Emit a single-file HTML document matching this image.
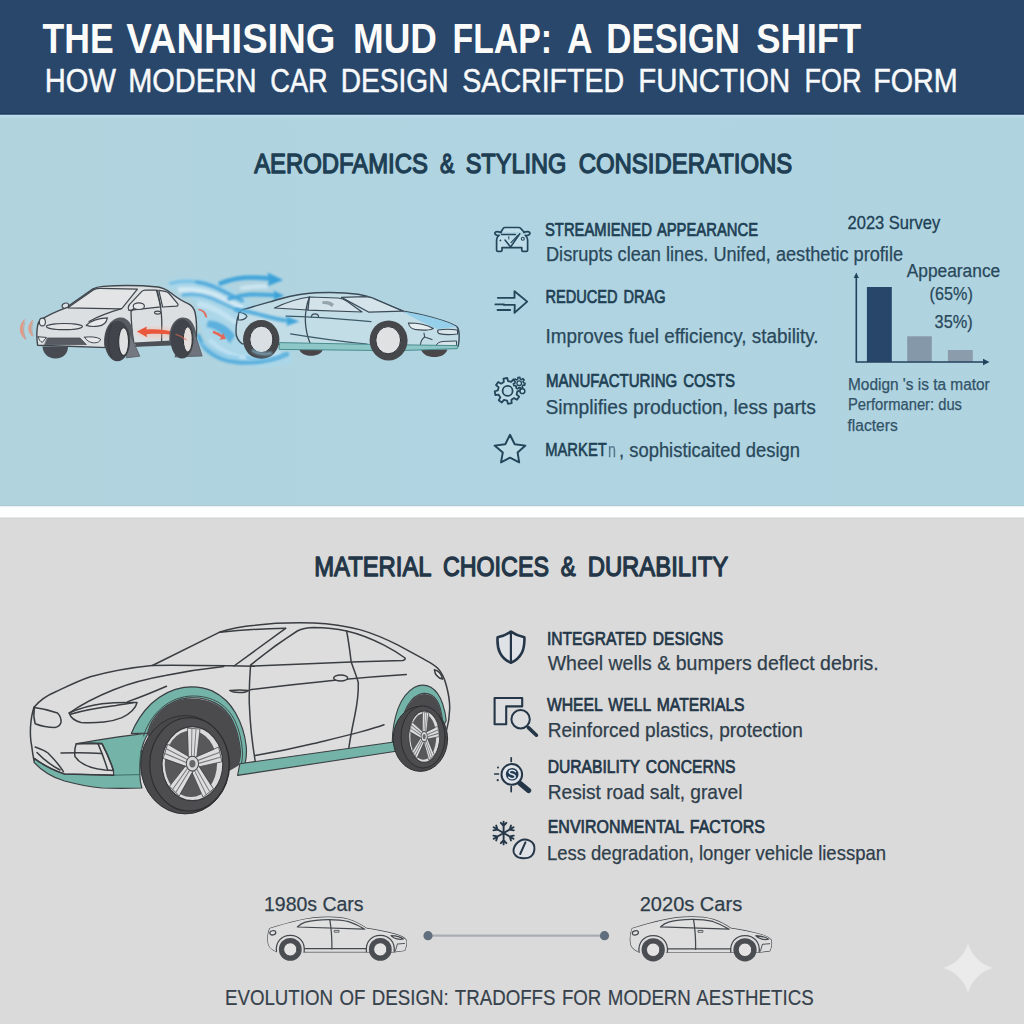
<!DOCTYPE html>
<html lang="en"><head><meta charset="utf-8"><title>The Vanishing Mud Flap</title>
<style>
html,body{margin:0;padding:0;background:#dadada;}
body{width:1024px;height:1024px;overflow:hidden;font-family:"Liberation Sans",sans-serif;}
svg{display:block;font-family:"Liberation Sans",sans-serif;}
text{white-space:pre;}
</style></head><body>
<svg width="1024" height="1024" viewBox="0 0 1024 1024">
<defs>
<linearGradient id="gblue" x1="0" y1="0" x2="1" y2="0">
<stop offset="0" stop-color="#b0d3de"/><stop offset="0.5" stop-color="#b0d4e1"/><stop offset="1" stop-color="#afd3df"/>
</linearGradient>
<linearGradient id="gband" x1="0" y1="0" x2="0" y2="1">
<stop offset="0" stop-color="#c2e0f3"/><stop offset="0.35" stop-color="#badaea"/><stop offset="1" stop-color="#b0d4e0" stop-opacity="0"/>
</linearGradient>
</defs>
<rect x="0" y="0" width="1024" height="1024" fill="#dadada"/>
<rect x="0" y="114" width="1024" height="392.3" fill="url(#gblue)"/>
<rect x="0" y="114" width="1024" height="7" fill="url(#gband)"/>
<rect x="0" y="0" width="1024" height="114.5" fill="#28476a"/>
<rect x="0" y="113.2" width="1024" height="1.3" fill="#213f5e"/>
<rect x="0" y="505.2" width="1024" height="1.1" fill="#a8c9d4"/>
<rect x="0" y="506.3" width="1024" height="11.4" fill="#fdfefe"/>
<rect x="0" y="517.7" width="1024" height="1.2" fill="#d3d3d3"/>
<text x="42.5" y="53" font-size="43" fill="#fbfbfa" font-weight="bold" textLength="71.2" lengthAdjust="spacingAndGlyphs">THE</text>
<text x="126.25" y="53" font-size="43" fill="#fbfbfa" font-weight="bold" textLength="209.2" lengthAdjust="spacingAndGlyphs">VANHISING</text>
<text x="353.0" y="53" font-size="43" fill="#fbfbfa" font-weight="bold" textLength="84.0" lengthAdjust="spacingAndGlyphs">MUD</text>
<text x="452.5" y="53" font-size="43" fill="#fbfbfa" font-weight="bold" textLength="99.5" lengthAdjust="spacingAndGlyphs">FLAP:</text>
<text x="567.0" y="53" font-size="43" fill="#fbfbfa" font-weight="bold" textLength="25.5" lengthAdjust="spacingAndGlyphs">A</text>
<text x="606.25" y="53" font-size="43" fill="#fbfbfa" font-weight="bold" textLength="133.7" lengthAdjust="spacingAndGlyphs">DESIGN</text>
<text x="756.25" y="53" font-size="43" fill="#fbfbfa" font-weight="bold" textLength="105.0" lengthAdjust="spacingAndGlyphs">SHIFT</text>
<text x="44.75" y="91.6" font-size="33.5" fill="#f7f9fb" font-weight="normal" textLength="71.2" lengthAdjust="spacingAndGlyphs" stroke="#f7f9fb" stroke-width="0.5" stroke-linejoin="round">HOW</text>
<text x="128.25" y="91.6" font-size="33.5" fill="#f7f9fb" font-weight="normal" textLength="128.5" lengthAdjust="spacingAndGlyphs" stroke="#f7f9fb" stroke-width="0.5" stroke-linejoin="round">MODERN</text>
<text x="270.25" y="91.6" font-size="33.5" fill="#f7f9fb" font-weight="normal" textLength="57.5" lengthAdjust="spacingAndGlyphs" stroke="#f7f9fb" stroke-width="0.5" stroke-linejoin="round">CAR</text>
<text x="340.75" y="91.6" font-size="33.5" fill="#f7f9fb" font-weight="normal" textLength="107.7" lengthAdjust="spacingAndGlyphs" stroke="#f7f9fb" stroke-width="0.5" stroke-linejoin="round">DESIGN</text>
<text x="462.25" y="91.6" font-size="33.5" fill="#f7f9fb" font-weight="normal" textLength="162.0" lengthAdjust="spacingAndGlyphs" stroke="#f7f9fb" stroke-width="0.5" stroke-linejoin="round">SACRIFTED</text>
<text x="638.25" y="91.6" font-size="33.5" fill="#f7f9fb" font-weight="normal" textLength="152.0" lengthAdjust="spacingAndGlyphs" stroke="#f7f9fb" stroke-width="0.5" stroke-linejoin="round">FUNCTION</text>
<text x="804.5" y="91.6" font-size="33.5" fill="#f7f9fb" font-weight="normal" textLength="57.0" lengthAdjust="spacingAndGlyphs" stroke="#f7f9fb" stroke-width="0.5" stroke-linejoin="round">FOR</text>
<text x="873.25" y="91.6" font-size="33.5" fill="#f7f9fb" font-weight="normal" textLength="84.5" lengthAdjust="spacingAndGlyphs" stroke="#f7f9fb" stroke-width="0.5" stroke-linejoin="round">FORM</text>
<text x="254.18" y="172.5" font-size="28" fill="#1e3f54" font-weight="normal" textLength="173.7" lengthAdjust="spacingAndGlyphs" stroke="#1e3f54" stroke-width="1.35" stroke-linejoin="round">AERODFAMICS</text>
<text x="439.93" y="172.5" font-size="28" fill="#1e3f54" font-weight="normal" textLength="14.4" lengthAdjust="spacingAndGlyphs" stroke="#1e3f54" stroke-width="1.35" stroke-linejoin="round">&amp;</text>
<text x="465.68" y="172.5" font-size="28" fill="#1e3f54" font-weight="normal" textLength="100.7" lengthAdjust="spacingAndGlyphs" stroke="#1e3f54" stroke-width="1.35" stroke-linejoin="round">STYLING</text>
<text x="578.67" y="172.5" font-size="28" fill="#1e3f54" font-weight="normal" textLength="213.6" lengthAdjust="spacingAndGlyphs" stroke="#1e3f54" stroke-width="1.35" stroke-linejoin="round">CONSIDERATIONS</text>
<text x="545" y="235.8" font-size="18.5" fill="#1e3f54" font-weight="normal" textLength="213.0" lengthAdjust="spacingAndGlyphs" stroke="#1e3f54" stroke-width="0.72" stroke-linejoin="round" style="word-spacing:2.2px">STREAMIENED APPEARANCE</text>
<text x="546" y="260.6" font-size="19.5" fill="#29485b" font-weight="normal" textLength="357.0" lengthAdjust="spacingAndGlyphs" stroke="#29485b" stroke-width="0.25" stroke-linejoin="round">Disrupts clean lines. Unifed, aesthetic profile</text>
<text x="545.4" y="303.1" font-size="18.5" fill="#1e3f54" font-weight="normal" textLength="120.2" lengthAdjust="spacingAndGlyphs" stroke="#1e3f54" stroke-width="0.72" stroke-linejoin="round" style="word-spacing:2.2px">REDUCED DRAG</text>
<text x="545.4" y="342.9" font-size="19.5" fill="#29485b" font-weight="normal" textLength="273.2" lengthAdjust="spacingAndGlyphs" stroke="#29485b" stroke-width="0.25" stroke-linejoin="round">Improves fuel efficiency, stability.</text>
<text x="546" y="387" font-size="18.5" fill="#1e3f54" font-weight="normal" textLength="189.0" lengthAdjust="spacingAndGlyphs" stroke="#1e3f54" stroke-width="0.72" stroke-linejoin="round" style="word-spacing:2.2px">MANUFACTURING COSTS</text>
<text x="545.4" y="413.8" font-size="19.5" fill="#29485b" font-weight="normal" textLength="270.4" lengthAdjust="spacingAndGlyphs" stroke="#29485b" stroke-width="0.25" stroke-linejoin="round">Simplifies production, less parts</text>
<text x="545.2" y="456.4" font-size="18.6" fill="#1e3f54" font-weight="normal" textLength="61.6" lengthAdjust="spacingAndGlyphs" stroke="#1e3f54" stroke-width="0.6" stroke-linejoin="round">MARKET</text>
<text x="608" y="456.8" font-size="19.5" fill="#3f6479" font-weight="normal" textLength="8.0" lengthAdjust="spacingAndGlyphs" stroke="#3f6479" stroke-width="0.25" stroke-linejoin="round" opacity=".8">n</text>
<text x="619" y="457.4" font-size="19.5" fill="#29485b" font-weight="normal" textLength="181.0" lengthAdjust="spacingAndGlyphs" stroke="#29485b" stroke-width="0.25" stroke-linejoin="round">, sophisticaited design</text>
<text x="847.6" y="229.4" font-size="17.8" fill="#1e3f54" font-weight="normal" textLength="92.6" lengthAdjust="spacingAndGlyphs" stroke="#1e3f54" stroke-width="0.3" stroke-linejoin="round">2023 Survey</text>
<text x="906.7" y="277.4" font-size="18" fill="#29485b" font-weight="normal" textLength="93.5" lengthAdjust="spacingAndGlyphs" stroke="#29485b" stroke-width="0.25" stroke-linejoin="round">Appearance</text>
<text x="929.6" y="300.2" font-size="18" fill="#29485b" font-weight="normal" textLength="43.2" lengthAdjust="spacingAndGlyphs" stroke="#29485b" stroke-width="0.25" stroke-linejoin="round">(65%)</text>
<text x="934.6" y="328.4" font-size="18" fill="#29485b" font-weight="normal" textLength="38.2" lengthAdjust="spacingAndGlyphs" stroke="#29485b" stroke-width="0.25" stroke-linejoin="round">35%)</text>
<text x="848" y="389.9" font-size="15.8" fill="#325268" font-weight="normal" textLength="141.7" lengthAdjust="spacingAndGlyphs" stroke="#325268" stroke-width="0.25" stroke-linejoin="round">Modign 's is ta mator</text>
<text x="848" y="410.2" font-size="15.8" fill="#325268" font-weight="normal" textLength="114.0" lengthAdjust="spacingAndGlyphs" stroke="#325268" stroke-width="0.25" stroke-linejoin="round">Performaner: dus</text>
<text x="847.5" y="431" font-size="15.8" fill="#325268" font-weight="normal" textLength="50.2" lengthAdjust="spacingAndGlyphs" stroke="#325268" stroke-width="0.25" stroke-linejoin="round">flacters</text>
<g id="chart"><rect x="866.9" y="287" width="24.9" height="75" fill="#28466a"/><rect x="907.2" y="336.3" width="24.6" height="25.5" fill="#8598a9"/><rect x="947.9" y="350" width="24.9" height="12" fill="#8b9dac"/><path d="M856.3 276 V362 H984" fill="none" stroke="#24425e" stroke-width="1.6"/><path d="M856.3 272.5 l-2.6 5.5 h5.2z M989.5 362 l-6.5 -3.2 v6.4z" fill="#24425e"/></g>
<text x="314.18" y="575.8" font-size="28.5" fill="#233648" font-weight="normal" textLength="117.4" lengthAdjust="spacingAndGlyphs" stroke="#233648" stroke-width="1.35" stroke-linejoin="round">MATERIAL</text>
<text x="442.93" y="575.8" font-size="28.5" fill="#233648" font-weight="normal" textLength="106.0" lengthAdjust="spacingAndGlyphs" stroke="#233648" stroke-width="1.35" stroke-linejoin="round">CHOICES</text>
<text x="560.67" y="575.8" font-size="28.5" fill="#233648" font-weight="normal" textLength="14.9" lengthAdjust="spacingAndGlyphs" stroke="#233648" stroke-width="1.35" stroke-linejoin="round">&amp;</text>
<text x="587.67" y="575.8" font-size="28.5" fill="#233648" font-weight="normal" textLength="140.5" lengthAdjust="spacingAndGlyphs" stroke="#233648" stroke-width="1.35" stroke-linejoin="round">DURABILITY</text>
<text x="546.9" y="645" font-size="18.5" fill="#233648" font-weight="normal" textLength="176.3" lengthAdjust="spacingAndGlyphs" stroke="#233648" stroke-width="0.72" stroke-linejoin="round" style="word-spacing:2.2px">INTEGRATED DESIGNS</text>
<text x="547.7" y="670.4" font-size="19.8" fill="#2f3e4b" font-weight="normal" textLength="331.0" lengthAdjust="spacingAndGlyphs" stroke="#2f3e4b" stroke-width="0.25" stroke-linejoin="round">Wheel wells &amp; bumpers deflect debris.</text>
<text x="546.9" y="711.4" font-size="18.5" fill="#233648" font-weight="normal" textLength="197.7" lengthAdjust="spacingAndGlyphs" stroke="#233648" stroke-width="0.72" stroke-linejoin="round" style="word-spacing:2.2px">WHEEL WELL MATERIALS</text>
<text x="547.7" y="737.2" font-size="19.8" fill="#2f3e4b" font-weight="normal" textLength="255.1" lengthAdjust="spacingAndGlyphs" stroke="#2f3e4b" stroke-width="0.25" stroke-linejoin="round">Reinforced plastics, protection</text>
<text x="547.7" y="772.5" font-size="18.5" fill="#233648" font-weight="normal" textLength="187.8" lengthAdjust="spacingAndGlyphs" stroke="#233648" stroke-width="0.72" stroke-linejoin="round" style="word-spacing:2.2px">DURABILITY CONCERNS</text>
<text x="547.7" y="799.1" font-size="19.8" fill="#2f3e4b" font-weight="normal" textLength="194.8" lengthAdjust="spacingAndGlyphs" stroke="#2f3e4b" stroke-width="0.25" stroke-linejoin="round">Resist road salt, gravel</text>
<text x="547.7" y="833.2" font-size="18.5" fill="#233648" font-weight="normal" textLength="217.3" lengthAdjust="spacingAndGlyphs" stroke="#233648" stroke-width="0.72" stroke-linejoin="round" style="word-spacing:2.2px">ENVIRONMENTAL FACTORS</text>
<text x="546.9" y="859.8" font-size="19.8" fill="#2f3e4b" font-weight="normal" textLength="339.1" lengthAdjust="spacingAndGlyphs" stroke="#2f3e4b" stroke-width="0.25" stroke-linejoin="round">Less degradation, longer vehicle liesspan</text>
<text x="264" y="910.8" font-size="20.5" fill="#2f3e4b" font-weight="normal" textLength="99.6" lengthAdjust="spacingAndGlyphs" stroke="#2f3e4b" stroke-width="0.25" stroke-linejoin="round">1980s Cars</text>
<text x="639.7" y="910.8" font-size="20.5" fill="#2f3e4b" font-weight="normal" textLength="102.5" lengthAdjust="spacingAndGlyphs" stroke="#2f3e4b" stroke-width="0.25" stroke-linejoin="round">2020s Cars</text>
<text x="225" y="1005.1" font-size="22" fill="#36414b" font-weight="normal" textLength="588.6" lengthAdjust="spacingAndGlyphs" stroke="#36414b" stroke-width="0.2" stroke-linejoin="round" style="word-spacing:1.5px">EVOLUTION OF DESIGN: TRADOFFS FOR MODERN AESTHETICS</text>
<line x1="428" y1="935.7" x2="604.5" y2="935.7" stroke="#a9adb2" stroke-width="2.2"/>
<circle cx="428" cy="935.7" r="4.6" fill="#5f6f7d"/><circle cx="604.5" cy="935.7" r="4.6" fill="#5f6f7d"/>
<path d="M968 943.6 Q974 962 992.4 968 Q974 974 968 992.4 Q962 974 943.6 968 Q962 962 968 943.6Z" fill="#ebebeb" filter="url(#soft2)"/>
<!-- ===== icons ===== -->
<g id="icons1" fill="none" stroke="#24465a" stroke-width="1.7" stroke-linejoin="round" stroke-linecap="round">
  <g id="ic-car">
    <path fill="#bfdeea" d="M501 232 L503.2 228.4 C503.6 227.8 504.2 227.5 505 227.5 H518.8 C519.6 227.5 520.2 227.8 520.6 228.4 L524 232"/>
    <path d="M501 232.6 C498 231.4 495.4 231.6 494.8 233 C494.6 234.6 497 235.6 499.4 235.6"/>
    <path d="M523.8 232.4 C526.6 231.2 529.4 231.4 530 233 C530.2 234.6 527.8 235.6 525.4 235.6"/>
    <path fill="#bfdeea" d="M499 235.4 C497.4 236.6 496.6 238 496.6 240 V250.2 C496.6 251 497 251.4 497.8 251.4 H500.8 C501.6 251.4 502 251 502 250.2 V247.6 H521.8 V250.2 C521.8 251 522.2 251.4 523 251.4 H526.4 C527.2 251.4 527.6 251 527.6 250.2 V240 C527.6 238 526.8 236.6 525.4 235.4"/>
    <path d="M501.6 234.5 H515.4" stroke-width="1.4"/>
    <path d="M505 240 L510.6 247 L519.8 233.8" stroke-width="1.5"/>
    <path d="M511 242.6 L517.6 235.6" stroke-width="1.2"/>
    <circle cx="522.8" cy="238.8" r="1.5" stroke-width="1.1"/>
    <circle cx="500.4" cy="240.4" r=".9" fill="#24465a" stroke="none"/>
    <path d="M508.8 236.6 V239" stroke-width="1"/>
  </g>
  <g id="ic-arrow" stroke-width="1.85">
    <path d="M497.8 297.8 H514.5 V291.2 L527.2 301.6 L514.5 312.8 L514.8 304.9 H504 "/>
    <path d="M495.4 304.4 H504"/>
    <path d="M497.5 310 H510.2"/>
  </g>
  <g id="ic-gear" stroke-width="1.8">
    <path d="M516.53 387.12 L519.84 386.82 L520.50 390.55 L517.29 391.40 L516.59 394.54 L519.14 396.67 L516.97 399.77 L514.10 398.10 L511.38 399.83 L511.68 403.14 L507.95 403.80 L507.10 400.59 L503.96 399.89 L501.83 402.44 L498.73 400.27 L500.40 397.40 L498.67 394.68 L495.36 394.98 L494.70 391.25 L497.91 390.40 L498.61 387.26 L496.06 385.13 L498.23 382.03 L501.10 383.70 L503.82 381.97 L503.52 378.66 L507.25 378.00 L508.10 381.21 L511.24 381.91 L513.37 379.36 L516.47 381.53 L514.80 384.40Z" fill="#bddce8" stroke-linejoin="round"/>
    <circle cx="507.6" cy="390.9" r="5" fill="#b6d8e4"/>
    <path d="M523.49 382.84 L525.10 383.24 L524.76 385.18 L523.10 385.00 L522.15 386.33 L522.85 387.84 L521.11 388.78 L520.22 387.38 L518.60 387.46 L517.85 388.94 L516.03 388.18 L516.57 386.60 L515.49 385.38 L513.87 385.73 L513.33 383.82 L514.90 383.27 L515.18 381.66 L513.90 380.61 L515.05 379.00 L516.46 379.88 L517.90 379.10 L517.92 377.44 L519.90 377.34 L520.09 378.99 L521.59 379.63 L522.91 378.61 L524.22 380.09 L523.04 381.27Z" fill="#bddce8" stroke-width="1.5"/>
    <circle cx="519.2" cy="383.2" r="2.3" stroke-width="1.3"/>
    <circle cx="522.4" cy="391.2" r="2.4" fill="#c4e1ec" stroke-width="1.5"/>
  </g>
  <g id="ic-star" stroke-width="1.95">
    <path fill="#bbdbe7" d="M510 434.8 L514.7 444.3 L525.4 445.6 L517.6 452.6 L519.2 462.4 L510 457.7 L501 462.4 L502.8 452.6 L494.6 445.6 L505.3 444.3Z"/>
  </g>
</g>
<g id="icons2" fill="none" stroke="#243647" stroke-width="1.7" stroke-linejoin="round" stroke-linecap="round">
  <g id="ic-shield" stroke-width="2.6">
    <path d="M510.9 631.6 C506.6 634.6 502 636.4 497.6 637.2 C497.2 643 497.8 648.4 500 652.8 C502.4 657.4 506 660.6 510.9 662.8 C515.8 660.6 519.4 657.4 521.8 652.8 C524 648.4 524.6 643 524.4 637.2 C519.8 636.4 515.2 634.6 510.9 631.6Z" fill="#dfe3e7"/>
    <path d="M510.9 632 V662.4" stroke-width="2.2"/>
  </g>
  <g id="ic-lmag">
    <path d="M494.6 698 H522.2 V706.4 H506.2 V724.2 H494.6Z" stroke-width="2.1" fill="#dcdedf"/>
    <circle cx="520.6" cy="719.2" r="9.2" stroke-width="2" fill="#dcdddf"/>
    <path d="M528.4 727.6 L536.4 735.2" stroke-width="3.6"/>
  </g>
  <g id="ic-dur">
    <circle cx="511.8" cy="774.4" r="10.3" stroke-width="2" fill="#e1e5ea"/>
    <circle cx="512.2" cy="774.2" r="6.3" fill="#223a52" stroke="none"/>
    <path d="M515.4 771.6 C514 769.8 509.4 769.6 509.2 772.2 C509 774.8 515.2 773.8 515.2 776.6 C515.2 779.2 510.2 779.2 508.8 777.2" stroke="#dfe6ee" stroke-width="1.5"/>
    <path d="M511.2 757.8 V761.4 M511.2 786.6 V791.6 M494.8 774 H498.4" stroke-width="1.7"/>
    <circle cx="498" cy="767.4" r="1" fill="#243647" stroke="none"/>
    <circle cx="497.7" cy="780.2" r="1.1" fill="#243647" stroke="none"/>
    <path d="M520.2 783.6 L528.6 790.6" stroke-width="5.2"/>
  </g>
  <g id="ic-snow">
    <path d="M503.60 833.00 L503.60 821.60 M503.60 825.93 L506.35 822.88 M503.60 825.93 L500.85 822.88 M503.60 833.00 L493.73 827.30 M497.48 829.47 L496.21 825.56 M497.48 829.47 L493.46 830.32 M503.60 833.00 L493.73 838.70 M497.48 836.53 L493.46 835.68 M497.48 836.53 L496.21 840.44 M503.60 833.00 L503.60 844.40 M503.60 840.07 L500.85 843.12 M503.60 840.07 L506.35 843.12 M503.60 833.00 L513.47 838.70 M509.72 836.53 L510.99 840.44 M509.72 836.53 L513.74 835.68 M503.60 833.00 L513.47 827.30 M509.72 829.47 L513.74 830.32 M509.72 829.47 L510.99 825.56 " stroke-width="1.9"/>
    <path d="M520.4 840.6 C523 839.2 526.6 839.4 529.6 840.6 C533 842.2 534.8 846 534.4 849.6 C534 853 532 856.4 528.6 857.6 C525.4 858.4 521.4 858.4 518.4 857.4 C515 856 513 852.6 513.6 849.2 C514.4 845.6 517.2 842.4 520.4 840.6Z" stroke-width="2" fill="#dee1e5"/>
    <path d="M525.4 842.4 L520.2 854" stroke-width="2"/>
  </g>
</g>
<!-- ===== top illustration: airflow + two cars ===== -->
<defs>
<filter id="soft" x="-10%" y="-10%" width="120%" height="120%"><feGaussianBlur stdDeviation="0.9"/></filter>
<filter id="soft2" x="-10%" y="-10%" width="120%" height="120%"><feGaussianBlur stdDeviation="0.5"/></filter>
</defs>
<g id="airflow" filter="url(#soft)">
  <!-- broad pale haze -->
  <path d="M168 281 C190 276 214 279 230 288 C242 295 252 304 264 308 L284 312 L286 330 C268 330 256 326 246 320 C238 348 252 360 292 351 L292 363 C262 371 236 367 217 353 C205 343 199 326 197 306 C191 296 183 290 168 289Z" fill="#a6d8f0" opacity=".55"/>
  <!-- whitish bands -->
  <path d="M178 287.4 C196 285.6 212 289.6 226 297.4 C232 300.8 238 303.6 244 305.6 L241 310 C234 308 228 305 222 301.6 C208 294 194 291.6 178 292.6Z" fill="#d9eef8" opacity=".8"/>
  <path d="M198 301 C210 303 222 309 232 317 C238 321.6 246 324 254 324.6 L253 329 C244 328.6 236 326 229 321 C219 313.6 209 308.6 197 306.4Z" fill="#cfe9f6" opacity=".7"/>
  <path d="M211 338 C219 347 231 353.6 246 355.6 C258 357 270 355 280 350.6 L281 355 C270 359.6 256 361 243 359 C228 356.4 216 349 208 341Z" fill="#c2e4f5" opacity=".75"/>
  <path d="M240 286.6 C250 284.4 260 284 268 284.6 L268 288.6 C260 288 250 288.6 241 290.6Z" fill="#d6edf8" opacity=".7"/>
  <!-- wave 1 -->
  <path d="M171 283.2 C180 281 190 280.8 199 282.4" fill="none" stroke="#7cc2e6" stroke-width="3.6" stroke-linecap="round"/>
  <path d="M197 282 C203 283 208 284.4 213 286.4 C224 291 232 296.4 242 300.6" fill="none" stroke="#56acdc" stroke-width="4" stroke-linecap="round"/>
  <!-- wave 2 (continues into third arrow) -->
  <path d="M183.4 295 C192 293.4 202 294.6 210 297.6 C222 302 230 307.4 240 311" fill="none" stroke="#66b5df" stroke-width="4" stroke-linecap="round" opacity=".95"/>
  <!-- top arrow -->
  <path d="M220.6 283.4 C228 280.4 236 278.4 244 277.8 C252 277.2 260 277.6 269 278.4" fill="none" stroke="#43a5da" stroke-width="4.6" stroke-linecap="round"/>
  <path d="M267.4 272.4 L283.2 280 L267.4 286.2 L269.4 279.2Z" fill="#3ba1d9"/>
  <!-- second arrow -->
  <path d="M229 298.8 C236 296.4 243 295 250 294.6 C258 294.2 266 294.6 275 295.2" fill="none" stroke="#48a8db" stroke-width="4" stroke-linecap="round"/>
  <path d="M273.4 290.6 L284.2 295.7 L273.4 300.5 L275 295.4Z" fill="#3ca2d9"/>
  <!-- middle blob -->
  <path d="M208 320.4 C218 320 228 325.4 235 335.4 L230 343.6 C223 334 215.6 328.4 206.4 327Z" fill="#56aedd" opacity=".92"/>
  <!-- bottom swoosh -->
  <path d="M198.4 335.6 C201 342 204 347 208 351 C216 358 226 361.4 238 362.4 C256 363.8 272 360.6 287 354.2" fill="none" stroke="#58afdd" stroke-width="4.2" stroke-linecap="round"/>
  <path d="M203 343 C212 352 224 356.4 238 357.4" fill="none" stroke="#8ccaea" stroke-width="3" stroke-linecap="round" opacity=".8"/>
</g>

<!-- ===== car 1 (left, with mud flaps) ===== -->
<g id="car1" stroke-linejoin="round" stroke-linecap="round">
  <!-- far front wheel -->
  <path d="M42.5 346.5 H68 C68 353 63.5 358.6 55.5 358.6 C47.5 358.6 43 353 42.5 346.5Z" fill="#474b51"/>
  <!-- far rear wheel hint -->
  <!-- body -->
  <path d="M37.6 345.2 C36.6 338 36.8 330 37.6 325.6 C38.2 322.4 39.4 320.6 41 319.6 C48 315.2 56.5 311.2 66 307.8 L93 288.9 C96 287.2 99 286.7 103 286.4 C118 285.3 140 285.3 158 287 C163 287.6 167 290 171 293 C176 297 182 301 188 303.6 C192 305.4 194.2 308.6 195.2 313 C196.6 320 196.8 328 196.4 336 L196 341 L170 342.5 L134.5 346 L107.5 347.6 Z" fill="#dcdfe1" stroke="#3f464d" stroke-width="1.4"/>
  <!-- windshield -->
  <path d="M67.8 307.8 L94 289.6 C96 288.6 98 288.4 100 288.4 L137.4 289.2 L123 307.2 C122.4 308.2 121.4 308.8 120 308.8 Z" fill="#e2e4e5" stroke="#3f464d" stroke-width="1.2"/>
  <!-- hood crease to right headlight -->
  <path d="M121.6 308.6 C112 311.4 100 315.2 89 321.4" fill="none" stroke="#3f464d" stroke-width="1.2"/>
  <!-- side windows -->
  <path d="M129 310.4 C127.8 308.4 128 306.6 129.4 304.6 L141.6 291.6 C142.6 290.6 143.8 290.2 145.4 290.2 L156.4 290.2 L160.8 306.8 Z" fill="#e3e5e6" stroke="#3f464d" stroke-width="1.2"/>
  <path d="M158.8 290.4 L165 291.4 C167 291.8 168.4 292.6 169.6 294 L177.6 303.6 C178.4 304.8 178 306 176.6 306.2 L162.6 307 Z" fill="#e3e5e6" stroke="#3f464d" stroke-width="1.2"/>
  <!-- door lines -->
  <path d="M157.2 290.2 C159.6 300 161.6 312 161.8 322 L161.6 341.4" fill="none" stroke="#3f464d" stroke-width="1.3"/>
  <path d="M131 311.4 C131.2 322 132.2 334 134 343.6" fill="none" stroke="#3f464d" stroke-width="1.3"/>
  <ellipse cx="157.6" cy="312.6" rx="3.1" ry="1.5" fill="#dcdfe1" stroke="#3f464d" stroke-width="1.1"/>
  <!-- mirrors -->
  <ellipse cx="138.8" cy="306.2" rx="5.6" ry="3.3" fill="#e6e8e9" stroke="#3f464d" stroke-width="1.2"/>
  <path d="M133.6 308.8 L131.4 311" stroke="#3f464d" stroke-width="1.4"/>
  <ellipse cx="65.4" cy="305.6" rx="3.4" ry="2.4" fill="#e0e3e5" stroke="#3f464d" stroke-width="1.1" transform="rotate(-20 65.4 305.6)"/>
  <!-- front face details -->
  <ellipse cx="42.4" cy="322" rx="3" ry="3.9" fill="#e7e9ea" stroke="#3f464d" stroke-width="1.1"/>
  <ellipse cx="64.4" cy="326.6" rx="18" ry="3.1" fill="#e2e4e6" stroke="#3f464d" stroke-width="1.2"/>
  <path d="M86.2 325.4 C90 321.2 98 318.2 107.4 317.8 C106.6 322 103.4 325.6 98 326.2 C93.6 326.7 89 326.5 86.2 325.4Z" fill="#e7e9ea" stroke="#3f464d" stroke-width="1.2"/>
  <path d="M47.6 338 H80 L86.4 344.6 H45Z" fill="#575b61" stroke="#4a4e54" stroke-width=".8"/>
  <path d="M38.2 336.8 L46.4 337.4 L42.4 342.4 C40.4 341.6 38.8 339.8 38.2 336.8Z" fill="#e7e9ea" stroke="#3f464d" stroke-width="1"/>
  <path d="M84.6 337.2 C90 336.4 97 336.8 100.6 339.2 C100.2 341.8 97.2 343 93.4 342.8 C89.4 342.6 86.6 340.4 84.6 337.2Z" fill="#e7e9ea" stroke="#3f464d" stroke-width="1"/>
  <!-- sill -->
  <path d="M134.2 342.4 L176 340.2 L171 345.4 L136.6 346.8Z" fill="#4c5056"/>
  <!-- red arrow inside -->
  <ellipse cx="158" cy="332.4" rx="22" ry="6" fill="#f3b9a8" opacity=".35" filter="url(#soft)"/>
  <g filter="url(#soft2)">
    <path d="M137 331.4 L146.8 326.4 L146.4 329.4 C156 328.8 166 329.6 175 332.2 C178 333.2 180.4 334.6 182 336 L181 338 C178 336.6 175 335.4 172 334.8 C164 333.6 155 333.6 146.6 334.2 L147 337.2Z" fill="#ea573a"/>
  </g>
  <!-- front wheel: arch, tire, hub, flap -->
  <path d="M104.4 347.6 C102.6 333 108 319.4 119.4 317.6 C128 316.6 132.6 325 133 334 L133.2 344 Z" fill="#575c62"/>
  <path d="M129.6 333 L139.8 356.2 L126.6 357.8 Z" fill="#747981" stroke="#565b62" stroke-width=".8"/>
  <ellipse cx="117.4" cy="341" rx="12.8" ry="20.2" fill="#41454b"/>
  <path d="M112 324.6 C107.6 332 107 348 111.6 357" fill="none" stroke="#31353a" stroke-width=".9" opacity=".8"/>
  <ellipse cx="123.6" cy="341.6" rx="5" ry="13.8" fill="#dfe0e1" stroke="#303439" stroke-width="1.1"/>
  <!-- rear wheel -->
  <path d="M169.4 343.4 C168.2 329.6 173 318.6 182.4 317.6 C191 316.8 196 326 196.6 338 Z" fill="#575c62"/>
  <path d="M194.2 331.6 L202.2 356 L175 357 L176 352 Z" fill="#6f747c" stroke="#565b62" stroke-width=".8"/>
  <ellipse cx="182" cy="338.8" rx="11.6" ry="19.6" fill="#41454b"/>
  <ellipse cx="187.8" cy="339.4" rx="4.5" ry="12.6" fill="#e4dedd" stroke="#33373c" stroke-width="1"/>
  <!-- red arrow over rear wheel tail -->
  <path d="M176 334.4 C180 335.6 183 337.4 186 339.6" fill="none" stroke="#ea6a50" stroke-width="1.5" opacity=".6"/>
  <!-- radar waves -->
  <g filter="url(#soft2)">
    <path d="M24.2 320 C18.4 326 19 334 25.6 339.4 C22.4 333.6 22 326.4 24.2 320Z" fill="#e39c84" stroke="#dc9a88" stroke-width=".9"/>
    <path d="M25 322 C22.8 328 23.4 334 25.8 338.6" fill="none" stroke="#a79aa4" stroke-width=".9" opacity=".7"/>
    <path d="M32.4 320.6 C27.4 325.6 27.6 332 32.6 336.2 C30.4 331.4 30.4 325.8 32.4 320.6Z" fill="#e2a28c" stroke="#dc9a88" stroke-width=".9"/>
    <path d="M33 322.6 C31.4 327 31.6 331.6 33 335" fill="none" stroke="#a79aa4" stroke-width=".8" opacity=".7"/>
  </g>
</g>
<!-- small red arrows between cars -->
<g filter="url(#soft2)" fill="#e2685a">
  <path d="M198.4 308.8 C201.6 309.2 204.4 310.6 205.6 312.8 C206.8 314.6 207.2 316.2 207.2 318 L204.8 316.4 C204.4 314.6 203.6 313 202 311.8 C201 311 199.8 310.4 198.4 310.2Z" opacity=".9"/>
  <path d="M213.4 330.4 C217 332 220 333.4 222.6 335.2 L223.4 332.8 L225.8 339 L219.4 339.8 L221.2 337.4 C218.6 335.6 215.6 334.2 212.6 333Z"/>
</g>

<!-- ===== car 2 (right, streamlined) ===== -->
<g id="car2" stroke-linejoin="round" stroke-linecap="round">
  <!-- far wheels -->
  <path d="M299 349 H323 C322 353.4 317 355.8 311 355.8 C305 355.8 300.4 353.4 299 349Z" fill="#4a4548"/>
  <path d="M421 349.4 H447.4 C446 354.4 440.6 357 434.2 357 C428 357 422.6 354.4 421 349.4Z" fill="#4a4548"/>
  <!-- body -->
  <path d="M240.6 310.6 C252 306.6 266 303 280 299 C292 295.6 304 293.4 316 292.8 C330 292.2 346 292.6 358 294.2 C366 295.4 372 297.8 378 300.6 L403.4 311.2 C416 313.4 430 316.4 442 320.4 C450 323 455.6 325.2 457.4 327.2 C459.4 330.6 459.6 338 458.2 346.4 L428 347.2 L300 345.8 L279 344.4 L242 343.8 C238 340.6 236 337 236 332 C236 324 237.2 316 240.6 310.6Z" fill="#c3dde7" stroke="#3b4b57" stroke-width="1.4"/>
  <!-- hood blue -->
  <path d="M403.4 311.4 C416 313.4 430 316.4 442 320.4 C449 322.8 454.6 325 456.8 326.8 L437 329 C428 324.6 414 318.8 403.4 311.4Z" fill="#96cfe9"/>
  <!-- windows band -->
  <path d="M274.4 308 C284 303.4 296 298.8 309.4 297 L308 310Z" fill="#d3e2e8" stroke="#3b4b57" stroke-width="1.2"/>
  <path d="M309.4 297 L338 298 C342 298.2 344.6 299.4 347.4 301.4 L362 312 L308 310.2Z" fill="#d3e3e9" stroke="#3b4b57" stroke-width="1.2"/>
  <path d="M341.4 297.4 L366 296.6 C370 296.8 374 298.2 378 300.4 L403 311.2 L369 312.2 Z" fill="#d4e4ea" stroke="#3b4b57" stroke-width="1.2"/>
  <!-- smudge in window -->
  <path d="M322 301.6 C326 300.4 331 301.2 334 304 L332 307 C329.6 304.8 326 303.6 322.6 304Z" fill="#7f9094" opacity=".75" filter="url(#soft2)"/>
  <!-- door line -->
  <path d="M309.4 297 C306.4 305 305 314 305.4 322 C305.8 330 307.6 337 310 343" fill="none" stroke="#3b4b57" stroke-width="1.3"/>
  <path d="M311.4 317 A3.6 3.2 0 0 1 318.6 317" fill="none" stroke="#3b4b57" stroke-width="1.2"/>
  <!-- belt + lower crease -->
  <path d="M286 316.2 C306 316.6 340 319 371 321.6" fill="none" stroke="#3b5a68" stroke-width="1.2"/>
  <path d="M290.6 333.8 C310 337 340 341.4 367 344" fill="none" stroke="#3b5a68" stroke-width="1.2"/>
  <!-- tail light -->
  <path d="M238.8 312.6 C242 312.2 246 313.8 247 316.4 C245.6 318.8 241.6 320.2 238.2 320Z" fill="#c9e4f0" stroke="#3b4b57" stroke-width="1.1"/>
  <!-- headlight, grille, intake -->
  <path d="M408.4 323 C416 323 427 325 433.4 328.4 C431 330.4 422 330.6 415 329.4 C411.4 328.6 409 326.4 408.4 323Z" fill="#e6eef0" stroke="#3b4b57" stroke-width="1.1"/>
  <path d="M438 330 C444 329 452 329.2 457.4 330 L457.6 334 C451 334.8 443 334.6 439 333.6 C437.6 332.6 437.4 331 438 330Z" fill="#d7e5ea" stroke="#3b4b57" stroke-width="1.1"/>
  <path d="M436 345.6 C437 342.8 440 341.6 444 341.4 L456.6 341 L456.4 345.8Z" fill="#d7e5ea" stroke="#3b4b57" stroke-width="1"/>
  <path d="M424 333 L424.6 337 L432 339.6 M424.6 337 C422 339 420.6 342 420.4 345" fill="none" stroke="#3b4b57" stroke-width="1.1"/>
  <!-- sill (teal) -->
  <path d="M279.6 342.6 L372 344.4 L458 345.6 L457.4 348.6 L406 350.4 L372 350.4 L279.6 349.4Z" fill="#8ec7c8" stroke="#4a8e90" stroke-width="1"/>
  <!-- wheels -->
  <ellipse cx="261.2" cy="339.6" rx="18.2" ry="19.5" fill="#45474b"/>
  <ellipse cx="261.4" cy="339.4" rx="11.6" ry="13.3" fill="#d9dfe2" stroke="#2f3236" stroke-width="1"/>
  <ellipse cx="388.6" cy="340.4" rx="19" ry="20" fill="#45474b"/>
  <ellipse cx="388.2" cy="340.2" rx="12.4" ry="13.6" fill="#e0e1e2" stroke="#2f3236" stroke-width="1"/>
</g>
<!-- third arrow over car 2 tail -->
<g filter="url(#soft)">
  <path d="M236 309.5 C244 311 250 312 256 313.6 C268 316.6 276 319.4 287.5 320.8" fill="none" stroke="#4eabdc" stroke-width="4" stroke-linecap="round" opacity=".92"/>
  <path d="M286.2 316.2 L299.6 321.6 L286.2 326 L288 321Z" fill="#3fa4da"/>
</g>
<!-- airflow that overlaps car 2 rear -->
<g filter="url(#soft)" opacity=".8">
  <path d="M246 357 C258 362 274 361 286 354" fill="none" stroke="#6dbbe3" stroke-width="3"/>
  <path d="M252 350 C256 353.6 264 355 272 353" fill="none" stroke="#9bd3ee" stroke-width="3" opacity=".8"/>
</g>

<!-- ===== big car (section 2) ===== -->
<g id="bigcar" fill="none" stroke="#3a3d41" stroke-width="1.5" stroke-linejoin="round" stroke-linecap="round">
  <!-- body silhouette light fill -->
  <path d="M34 707.3 C40 700 48 695 55.2 692 C66 687 78 681 90.3 676.8 C110 671 130 667.6 152 665.4 L219.2 632.3 C232 628 244 626 255.2 625.2 C274 622.8 294 622.4 313.7 622.9 C330 623.6 346 626 360.6 629.9 C374 633.8 386 639 398.1 645.2 C407 650 416 655 423.9 659.2 C430 662.4 435 665 438 668.6 C442 673 444.6 679 446.2 685 C448.4 693 449.8 701 449.7 708.4 C449.6 716 448.4 724 446.2 731.9 L442 738 L399.3 741.2 L239.9 763.5 L141.9 788 L102 788 L64.5 781 L34 762.3 C32 755 31 748 30.6 742 C30.2 735 30.2 730 30.5 727 C31 720 32 713 34 707.3Z" fill="#dddddd" stroke="none"/>

  <!-- teal: bumper + lip -->
  <path d="M76.2 743.8 C94 740.6 112 737.6 130 735.4 L148.4 733 C144.6 739 142.4 745 141.4 751.4 C140 760 139.6 768 139.8 775 C140 780 140.8 784.4 141.9 788 C128 788.6 114 788.6 102 788 C88 786.6 76 784 64.5 781 C52 777.4 42 771 34 762.3 L34.6 758.4 C44 765.6 54 770.6 64.5 774 L113.7 775.2 L113.4 770.4 C110.6 761.6 106.6 752.4 102 743.6Z" fill="#73b3a8" stroke="#3c3f43" stroke-width="1.2"/>
  <path d="M113.7 775.2 L140 774.6 M140.6 751 C140 759 139.8 767 140 774.6" stroke="#3f6f67" stroke-width="1"/>
  <!-- teal: front arch -->
  <path d="M131.3 733.6 C136 722 142.6 712 151.2 703.7 C161 694.8 172 689 184 687.3 C194 686 204 687.4 212.2 690.9 C222.6 696 230.4 704 235.6 713 C241.4 723.4 245 734.6 246.2 746 C246.8 752 246.4 758 245 763.6 L238.2 764.6 C240 759.6 240.8 755 240.3 750.6 C239.4 740.6 237.2 731 233.3 722.5 C229 713.6 222.6 706.6 214.5 702.6 C206.6 698.8 197.6 697.2 188.7 697.9 C178 698.8 168.4 703.6 160.6 710.8 C154 717 149.6 724.6 147.6 733Z" fill="#73b3a8" stroke="#3c3f43" stroke-width="1.2"/>
  <!-- inner arch second line -->
  <path d="M143.6 736 C146.4 726.6 151.6 717.6 158.4 711 C166.6 702.6 177 697.4 188.6 696.2 C198 695.4 207.6 697 215.6 700.8 C224.4 705.2 231 712.6 235.4 721.8 C239.4 730.6 241.6 740.6 242.4 750.6 C242.8 755.4 242.4 760 241.2 764" stroke="#3c3f43" stroke-width=".9"/>
  <!-- front wheel well dark -->
  <path d="M147.6 733.6 C150 725 154.6 717.4 160.6 711.4 C168.4 704 178 699.4 188.7 698.6 C197.6 698 206.6 699.6 214.5 703.4 C222.6 707.4 229 714.4 233.3 723.2 C237.2 731.6 239.4 741 240.3 751 C240.8 756 240 761 237.8 766 L224 774 L150 742Z" fill="#4b4b4e" stroke="none"/>
  <!-- teal: sill -->
  <path d="M239.9 763.7 L399.3 741.2 L399.3 750.8 L237.6 775.4Z" fill="#73b3a8" stroke="#3c3f43" stroke-width="1.1"/>
  <!-- teal: rear arch -->
  <path d="M392.3 741.6 C392.4 730 394.4 718.6 398.1 708.4 C401.8 699 407.4 691.4 414.5 687.3 C420 684.4 426 684.6 430.9 687.3 C436.4 690.6 440.2 696.6 442.6 703.7 C444.6 709.6 445.8 715 446.2 720.4 L443 727 C442.8 720 441.8 714 440.3 708.4 C438.4 702.4 436 698 432.1 695.5 C428 693.2 423.6 692.8 419.2 694.4 C413.2 697 408.4 703 405.1 710.8 C401.6 719.6 399.8 730 399.3 741.2Z" fill="#73b3a8" stroke="#3c3f43" stroke-width="1.1"/>
  <!-- rear wheel well dark -->
  <path d="M399.6 741 C400 730 401.8 719.6 405.3 711 C408.6 703.4 413.4 697.4 419.3 694.9 C423.6 693.4 428 693.8 431.9 696 C435.8 698.4 438.2 702.8 440 708.6 C441.6 714 442.6 720 442.8 727 L440 745 L405 752Z" fill="#4b4b4e" stroke="none"/>

  <!-- front tyre -->
  <ellipse cx="185.2" cy="764.7" rx="44.5" ry="49.2" fill="#48484b" stroke="#2f3032" stroke-width="1"/>
  <ellipse cx="189.4" cy="764.4" rx="39.6" ry="46.6" fill="#4d4d50" stroke="#2c2d2f" stroke-width="1.1"/>
  <!-- front rim -->
  <g transform="translate(192.4 763.7) scale(30.4 37)">
    <circle r="1" fill="#dadadb" stroke="#36383b" stroke-width=".035"/>
    <ellipse cx="-.05" cy="0" rx=".86" ry=".9" fill="#58585b" stroke="none"/>
    <g transform="rotate(3)">
    <g fill="#dcdcdd" stroke="#46484b" stroke-width=".022">
      <path id="spk" d="M-.2 -.95 L.2 -.95 L.13 -.1 L-.13 -.1Z"/>
      <use href="#spk" transform="rotate(72)"/><use href="#spk" transform="rotate(144)"/>
      <use href="#spk" transform="rotate(216)"/><use href="#spk" transform="rotate(288)"/>
    </g>
    <g stroke="#77787b" stroke-width=".03" fill="none">
      <path id="spl" d="M-.065 -.93 L-.04 -.2 M.07 -.93 L.045 -.2"/>
      <use href="#spl" transform="rotate(72)"/><use href="#spl" transform="rotate(144)"/>
      <use href="#spl" transform="rotate(216)"/><use href="#spl" transform="rotate(288)"/>
    </g>
    </g>
    <circle r=".2" fill="#d6d6d7" stroke="#46484b" stroke-width=".03"/>
    <circle r=".1" fill="#66676a" stroke="none"/>
  </g>

  <!-- rear tyre -->
  <ellipse cx="420.4" cy="738.8" rx="27.2" ry="32.6" fill="#48484b" stroke="#2f3032" stroke-width="1"/>
  <ellipse cx="423" cy="737" rx="22" ry="31" fill="#4d4d50" stroke="#2c2d2f" stroke-width="1"/>
  <g transform="translate(424.2 736.6) scale(15.4 25.8)">
    <circle r="1" fill="#dadadb" stroke="#36383b" stroke-width=".05"/>
    <ellipse cx="-.06" cy="0" rx=".84" ry=".9" fill="#58585b" stroke="none"/>
    <g transform="rotate(6)">
    <g fill="#dcdcdd" stroke="#46484b" stroke-width=".03">
      <use href="#spk"/>
      <use href="#spk" transform="rotate(72)"/><use href="#spk" transform="rotate(144)"/>
      <use href="#spk" transform="rotate(216)"/><use href="#spk" transform="rotate(288)"/>
    </g>
    <g stroke="#77787b" stroke-width=".04" fill="none">
      <use href="#spl"/>
      <use href="#spl" transform="rotate(72)"/><use href="#spl" transform="rotate(144)"/>
      <use href="#spl" transform="rotate(216)"/><use href="#spl" transform="rotate(288)"/>
    </g>
    </g>
    <circle r=".2" fill="#d6d6d7" stroke="#46484b" stroke-width=".04"/>
    <circle r=".1" fill="#66676a" stroke="none"/>
  </g>

  <!-- outlines -->
  <!-- hood / front top -->
  <path d="M34 707.3 C40 700 48 695 55.2 692 C66 687 78 681 90.3 676.8 C110 671 130 667.6 152 665.4 C186 665 220 665.6 254.4 666.2"/>
  <!-- fender line -->
  <path d="M69.2 713 C82 704 98 696 113.7 689.7 C130 683.4 148 678.6 165.3 675.6 C184 671.6 204 668.4 223.9 666.4"/>
  <!-- windshield left edge + roof -->
  <path d="M152.4 665.5 L219.2 632.3 C232 628 244 626 255.2 625.2 C274 622.8 294 622.4 313.7 622.9 C330 623.6 346 626 360.6 629.9 C374 633.8 386 639 398.1 645.2 C407 650 416 655 423.9 659.2 C430 662.4 435 665 438 668.6 C442 673 444.6 679 446.2 685 C448.4 693 449.8 701 449.7 708.4 C449.6 716 448.4 724 446.2 731.9"/>
  <!-- windshield top -->
  <path d="M220 632.3 C242 629.8 264 628.6 285.6 628.3"/>
  <!-- A pillar lines -->
  <path d="M234 666 L285.6 628.4"/>
  <path d="M250.5 665.2 C264 654 280 642 297.3 631 C302 628.8 308 627.8 313.7 627.6 C326 627.8 337 629 346.6 631 C360 634 372 639 384 645.2 C392 649.4 399 653.6 405.1 658 C405.4 659.4 404.4 660.2 402.8 660.4 L351.2 662 L250.5 666.2"/>
  <!-- B pillar -->
  <path d="M346.6 631 C348.6 641 350 652 351.2 662 C353.6 669 356.6 676 358.3 682.6 C358.6 694 357 705 354.8 715.5 C352.6 726 350.4 737 348.9 747.6"/>
  <!-- front door edge -->
  <path d="M250.5 666.2 C249.6 678 249 691 249.3 703.7 C250 722 252 742 255.2 761"/>
  <!-- belt crease -->
  <path d="M250.5 689.7 C278 686.4 306 683.2 334.8 680.3 C358 678 382 676 406.3 674.5"/>
  <!-- handle -->
  <ellipse cx="340.7" cy="678" rx="7" ry="3" fill="#dedede"/>
  <!-- side marker -->
  <path d="M229.8 690.4 C236 690 243 690 248.5 690.4 C246 693 234 693.4 229.8 690.4Z" fill="#dedede"/>
  <!-- lower crease -->
  <path d="M255.2 755.6 C274 752.4 294 748.4 313.7 743.6 C330 739.6 346 735.8 360.6 731.9 C369 729.6 377 727.4 384 724.8"/>
  <!-- tail light -->
  <path d="M434.4 669.8 C438 670.6 441.4 674 442.6 679.1 C438.4 678 435 674.4 434.4 669.8Z" fill="#e4e4e4"/>
  <!-- front face -->
  <path d="M34 707.3 C32 713 31 720 30.5 727 C30.2 733 30.4 740 31.7 746 C32.4 751 33 756 34 760.4"/>
  <!-- grille left -->
  <path d="M34.4 707.6 C42 708.6 50 710.4 57.5 713 C60 715.6 61.4 719 61 722.5 C60 725.4 58 727 55 727.4 C48 727.4 41 726 35.2 723.7 C33.6 718 33.6 712 34.4 707.6Z"/>
  <!-- headlight -->
  <path d="M69.2 713 C80 708 92 705 102 703.7 C114 702.4 126 702.2 137 702.6 C136 708 130 714 122 717.6 C116 720 110 721.4 104 722 C96 722.8 88 723 81 722.5 C75 721 70.6 717.6 69.2 713Z"/>
  <path d="M70.4 714.2 C84 710.4 100 707.6 116 705.6 C122 704.6 128 703.4 133 702.8"/>
  <path d="M127.8 701.6 C141 697 154 691.6 166.5 686.2"/>
  <!-- lower intake right -->
  <path d="M76.2 743.8 C84 743 94 742.8 102 743.6 C106.6 752.4 110.6 761.6 113.4 770.4 L105 770 C92 768.6 80 764 75 756.6 C74.4 752 74.8 747.6 76.2 743.8Z"/>
  <path d="M61 753 C74 752.6 88 752.6 102 753.4"/>
  <path d="M98 743.6 C101.6 752 105 761 107.6 770"/>
  <!-- lower intake left -->
  <path d="M35.2 747 C40 748.6 44.6 750.6 48 753 C54 759 59.4 765 63.4 771.7"/>
  <path d="M37 752.6 C42 758 50 764.6 60 770"/>
  <!-- bottom lip inner -->
  <path d="M34.6 758.6 C44 765.6 54 770.6 64.5 774 L113.7 775.2"/>
</g>

<!-- ===== small cars (timeline) ===== -->
<defs>
<g id="smallcar" fill="none" stroke="#45494e" stroke-width="1.25" stroke-linejoin="round" stroke-linecap="round">
  <!-- body: coordinates relative to car 1 absolute position -->
  <path d="M269.8 928.6 C280 925.4 290 922.6 299 920.6 C309 918.2 319 917.2 328.4 917.2 C336 917.2 343 918 348.9 919.6 C355 921.6 361 924.8 366.5 928.4 C377 930 387 932 395.8 934.4 C400 935.6 404 937.4 406 940 C406.6 943.6 406 947.4 404.6 950.4 L394 951.8 H303.6 M277 951.4 L274.2 950.4 C270.6 948.6 268.6 946 268.2 943 C267.6 938.6 267.8 933.4 269.8 928.6Z" fill="#dedede"/>
  <path d="M269.8 928.6 C280 925.4 290 922.6 299 920.6 C309 918.2 319 917.2 328.4 917.2 C336 917.2 343 918 348.9 919.6 C355 921.6 361 924.8 366.5 928.4 C377 930 387 932 395.8 934.4 C400 935.6 404 937.4 406 940 C406.6 943.6 406 947.4 404.6 950.4 L394 951.8 H276 L274.2 950.4 C270.6 948.6 268.6 946 268.2 943 C267.6 938.6 267.8 933.4 269.8 928.6Z" stroke="none" fill="#dedede"/>
  <!-- windows -->
  <path d="M297.4 927 C300 924.6 302.6 923 305.4 922.2 C312 920.4 320 919.6 328.6 919.6 C336 919.6 343 920.2 348.6 921.6 C354 923.4 359.6 926 364.8 929.2 Z" fill="#e0e0e0"/>
  <!-- door -->
  <path d="M329.8 919.6 C331.4 929 332 939 331.9 949"/>
  <path d="M334.6 930.4 h4.4 v1.8 h-4.4z" stroke-width=".8"/>
  <!-- lower line -->
  <path d="M303.6 948.6 H367"/>
  <!-- lights -->
  <ellipse cx="272.8" cy="932.8" rx="3" ry="2.1" fill="#e3e3e3" transform="rotate(-12 272.8 932.8)"/>
  <path d="M391 935.6 C396 935.8 400.6 937 403.4 939 C399.6 940 394 939 391 935.6Z" fill="#e3e3e3"/>
  <path d="M398 944 L404.6 943.4 M397.4 944 L395.4 950.8" stroke-width=".9"/>
  <!-- arches -->
  <path d="M276.4 951.6 C275.4 942 281.4 935.4 290.3 935.4 C299.2 935.4 305.2 942 304.2 951.6" fill="#dedede"/>
  <path d="M366.4 951.6 C365.4 942 371.4 935.4 380.3 935.4 C389.2 935.4 395.2 942 394.2 951.6" fill="#dedede"/>
  <!-- wheels -->
  <circle cx="290.3" cy="949.4" r="11.4" fill="#4a4d51" stroke="none"/>
  <circle cx="290.3" cy="949.4" r="6.6" fill="#e3e3e3" stroke="#3c3f43" stroke-width=".8"/>
  <circle cx="380.3" cy="949.4" r="11.4" fill="#4a4d51" stroke="none"/>
  <circle cx="380.3" cy="949.4" r="6.6" fill="#e3e3e3" stroke="#3c3f43" stroke-width=".8"/>
</g>
</defs>
<use href="#smallcar"/>
<use href="#smallcar" transform="translate(357.1 -16.7) scale(1.02 1.018)"/>

</svg>
</body></html>
